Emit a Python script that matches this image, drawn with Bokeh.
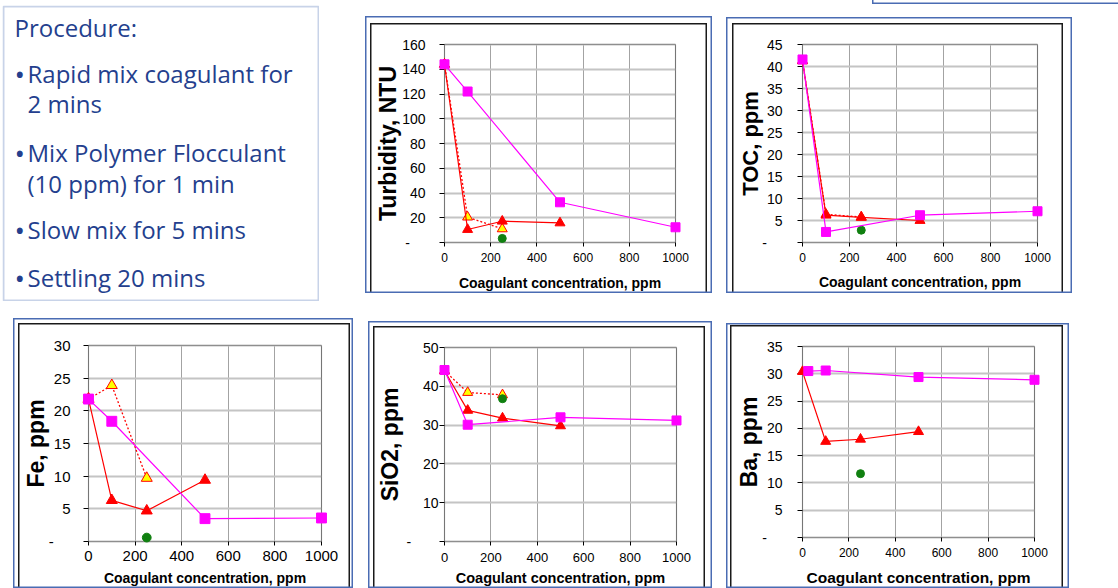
from bokeh.plotting import figure
from bokeh.layouts import row, column
from bokeh.models import Range1d, FixedTicker, BoxAnnotation, Spacer, Grid
from bokeh.core.properties import value
from bokeh.embed import file_html
from bokeh.resources import INLINE

# ---------------- data ----------------
conc_ticks = [0, 200, 400, 600, 800, 1000]

turb_sq_x = [0, 100, 500, 1000]
turb_sq_y = [144, 122, 32.5, 12.3]
turb_tri_x = [0, 100, 250, 500]
turb_tri_y = [144, 10.5, 17.2, 15.8]
turb_open_x = [0, 100, 250]
turb_open_y = [144, 20.5, 11.0]
turb_dot_x = [250]
turb_dot_y = [3.3]
turb_yticks = [0, 20, 40, 60, 80, 100, 120, 140, 160]

toc_sq_x = [0, 100, 500, 1000]
toc_sq_y = [41.6, 2.4, 6.2, 7.1]
toc_tri_x = [0, 100, 250, 500]
toc_tri_y = [41.3, 6.2, 5.7, 5.0]
toc_open_x = [0, 100, 250]
toc_open_y = [41.3, 6.4, 5.8]
toc_dot_x = [250]
toc_dot_y = [2.8]
toc_yticks = [0, 5, 10, 15, 20, 25, 30, 35, 40, 45]

fe_sq_x = [0, 100, 500, 1000]
fe_sq_y = [21.8, 18.4, 3.5, 3.6]
fe_tri_x = [0, 100, 250, 500]
fe_tri_y = [21.8, 6.3, 4.7, 9.4]
fe_open_x = [0, 100, 250]
fe_open_y = [21.8, 23.9, 9.7]
fe_dot_x = [250]
fe_dot_y = [0.6]
fe_yticks = [0, 5, 10, 15, 20, 25, 30]

si_sq_x = [0, 100, 500, 1000]
si_sq_y = [44.2, 30.1, 32.0, 31.2]
si_tri_x = [0, 100, 250, 500]
si_tri_y = [44.0, 33.8, 31.8, 29.8]
si_open_x = [0, 100, 250]
si_open_y = [44.0, 38.4, 37.8]
si_dot_x = [250]
si_dot_y = [36.8]
si_yticks = [0, 10, 20, 30, 40, 50]

ba_sq_x = [25, 100, 500, 1000]
ba_sq_y = [30.5, 30.6, 29.4, 28.9]
ba_tri_x = [0, 100, 250, 500]
ba_tri_y = [30.4, 17.6, 18.0, 19.4]
ba_open_x = []
ba_open_y = []
ba_dot_x = [250]
ba_dot_y = [11.7]
ba_yticks = [0, 5, 10, 15, 20, 25, 30, 35]

x_title = "Coagulant concentration, ppm"

proc_title = "Procedure:"
proc_lines = ["Rapid mix coagulant for", "2 mins", "Mix Polymer Flocculant",
              "(10 ppm) for 1 min", "Slow mix for 5 mins", "Settling 20 mins"]
proc_bullet = ["\u2022", "", "\u2022", "", "\u2022", "\u2022"]

# ---------------- style ----------------
BLUE = "#4a6cb3"
NAVY = "#243f8e"
MAG = "#ff00ff"
RED = "#ff0000"
YEL = "#ffff00"
GRN = "#108010"
FONT = "Liberation Sans"
PAD = 7


def frame_css(l, t, r):
    k = "#1a1a1a"
    return ", ".join([
        f"inset 0 0 0 1.5px {BLUE}",
        f"inset {l}px 0 0 0 white", f"inset -{r}px 0 0 0 white", f"inset 0 {t}px 0 0 white",
        f"inset {l + 1.5}px 0 0 0 {k}", f"inset -{r + 1.5}px 0 0 0 {k}", f"inset 0 {t + 1.5}px 0 0 {k}",
    ])


def chart(cfg, sx, sy, tx, ty, ox, oy, dx, dy, yticks, ytitle):
    W, H = cfg["W"], cfg["H"]
    fl, ft, fr, fb = cfg["frame"]
    xmax, ymax = conc_ticks[-1], yticks[-1]
    xpu = (fr - fl) / xmax
    ypu = (fb - ft) / ymax
    p = figure(width=W, height=H,
               x_range=Range1d(-PAD / xpu, xmax + PAD / xpu),
               y_range=Range1d(-PAD / ypu, ymax + PAD / ypu),
               output_backend="svg", toolbar_location=None,
               min_border_left=fl - PAD, min_border_right=W - fr - PAD,
               min_border_top=ft - PAD, min_border_bottom=H - fb - PAD,
               background_fill_color="white", border_fill_color=None,
               outline_line_color=None)
    p.title = None
    p.styles = {"box-shadow": frame_css(*cfg["inner"])}

    # grids
    p.xgrid.ticker = FixedTicker(ticks=conc_ticks)
    p.ygrid.ticker = FixedTicker(ticks=yticks)
    p.xgrid.grid_line_color = "#a3a3a3"
    p.xgrid.grid_line_width = 1
    p.ygrid.grid_line_color = "#c4c4c4"
    p.ygrid.grid_line_width = 2
    p.xgrid.cross_bounds = (0, ymax)
    p.ygrid.cross_bounds = (0, xmax)
    # outward tick marks
    p.add_layout(Grid(dimension=1, ticker=FixedTicker(ticks=yticks), cross_bounds=(-5 / xpu, 0),
                      grid_line_color="black", grid_line_width=1))
    p.add_layout(Grid(dimension=0, ticker=FixedTicker(ticks=conc_ticks), cross_bounds=(-4 / ypu, 0),
                      grid_line_color="black", grid_line_width=1))

    # plot-area border
    p.add_layout(BoxAnnotation(left=0, right=xmax, bottom=0, top=ymax,
                               fill_color=None, line_color="#111111",
                               line_width=1.2, level="underlay"))

    # axes (labels only; lines and ticks drawn above)
    xa = p.xaxis[0]
    ya = p.yaxis[0]
    xa.ticker = FixedTicker(ticks=conc_ticks)
    ya.ticker = FixedTicker(ticks=yticks)
    ya.major_label_overrides = {0: "-" + "\u00a0" * cfg["dash"]}
    for ax in (xa, ya):
        ax.axis_line_color = None
        ax.major_tick_line_color = None
        ax.major_tick_out = 0
        ax.major_tick_in = 0
        ax.minor_tick_line_color = None
        ax.minor_tick_out = 0
        ax.major_label_text_font = FONT
        ax.major_label_text_color = "black"
        ax.axis_label_text_font = FONT
        ax.axis_label_text_font_style = "bold"
        ax.axis_label_text_color = "black"
    ya.major_label_text_font_size = cfg["ytick_fs"]
    xa.major_label_text_font_size = cfg["xtick_fs"]
    ya.major_label_standoff = cfg["ylab_so"]
    xa.major_label_standoff = cfg["xlab_so"]
    ya.axis_label = ytitle
    ya.axis_label_text_font_size = cfg.get("ytitle_fs", "23px")
    ya.axis_label_standoff = cfg["ytitle_so"]
    xa.axis_label = x_title
    xa.axis_label_text_font_size = cfg["xtitle_fs"]
    xa.axis_label_standoff = cfg["xtitle_so"]

    ms = cfg.get("ms", 1.0)
    if ox:
        p.line(ox, oy, line_color=RED, line_width=1.3, line_dash="2 2")
        p.scatter(ox, oy, marker="triangle", size=10 * ms, fill_color=YEL, line_color=RED, line_width=1)
    p.line(tx, ty, line_color=RED, line_width=1.2)
    p.scatter(tx, ty, marker="triangle", size=10 * ms, fill_color=RED, line_color=RED)
    p.scatter(dx, dy, marker="circle", size=8 * ms, fill_color=GRN, line_color=GRN)
    p.line(sx, sy, line_color=MAG, line_width=1.2)
    p.scatter(sx, sy, marker="square", size=9 * ms, fill_color=MAG, line_color=MAG)
    return p


turb_cfg = dict(W=347, H=277, frame=(79, 28, 310, 226), dash=4, ytick_fs="14px", xtick_fs="12px",
                ylab_so=12, ytitle_so=-2, xlab_so=3, xtitle_so=10, xtitle_fs="14px", inner=(5, 7, 5))
toc_cfg = dict(W=346, H=276, frame=(76, 27, 311, 225), dash=4, ytick_fs="14px", xtick_fs="12px",
               ylab_so=13, ytitle_so=-4, ytitle_fs="22px", xlab_so=3, xtitle_so=9, xtitle_fs="14px",
               inner=(6, 6, 9))
fe_cfg = dict(W=340, H=270, frame=(75, 27, 308, 223), dash=4, ytick_fs="15px", xtick_fs="15px",
              ylab_so=11, ytitle_so=-3, xlab_so=2, xtitle_so=6, xtitle_fs="14px", inner=(5, 5, 3), ms=1.1)
si_cfg = dict(W=344, H=267, frame=(76, 26, 308, 220), dash=7, ytick_fs="14px", xtick_fs="13px",
              ylab_so=-1, ytitle_so=1, xlab_so=4, xtitle_so=5, xtitle_fs="14.5px", inner=(5, 5, 7))
ba_cfg = dict(W=343, H=265, frame=(76, 23, 308, 214), dash=4, ytick_fs="14px", xtick_fs="12px",
              ylab_so=13, ytitle_so=-3, xlab_so=3, xtitle_so=9, xtitle_fs="15.5px", inner=(4, 2, 6))

turb = chart(turb_cfg, turb_sq_x, turb_sq_y, turb_tri_x, turb_tri_y, turb_open_x, turb_open_y,
             turb_dot_x, turb_dot_y, turb_yticks, "Turbidity, NTU")
toc = chart(toc_cfg, toc_sq_x, toc_sq_y, toc_tri_x, toc_tri_y, toc_open_x, toc_open_y,
            toc_dot_x, toc_dot_y, toc_yticks, "TOC, ppm")
fe = chart(fe_cfg, fe_sq_x, fe_sq_y, fe_tri_x, fe_tri_y, fe_open_x, fe_open_y,
           fe_dot_x, fe_dot_y, fe_yticks, "Fe, ppm")
si = chart(si_cfg, si_sq_x, si_sq_y, si_tri_x, si_tri_y, si_open_x, si_open_y,
           si_dot_x, si_dot_y, si_yticks, "SiO2, ppm")
ba = chart(ba_cfg, ba_sq_x, ba_sq_y, ba_tri_x, ba_tri_y, ba_open_x, ba_open_y,
           ba_dot_x, ba_dot_y, ba_yticks, "Ba, ppm")


def plain(w, h, border="white"):
    f = figure(width=w, height=h, x_range=Range1d(0, w), y_range=Range1d(h, 0),
               output_backend="svg", toolbar_location=None, min_border=0,
               x_axis_type=None, y_axis_type=None, outline_line_color=None,
               background_fill_color="white", border_fill_color=border)
    f.title = None
    f.xgrid.visible = False
    f.ygrid.visible = False
    return f


# ---------------- procedure box ----------------
PW, PH = 317, 296
proc = plain(PW, PH)
proc.add_layout(BoxAnnotation(left=1, right=PW - 1, top=1, bottom=PH - 1,
                              fill_color=None, line_color=BLUE, line_width=2))
line_x = [25, 25, 25, 25, 25, 25]
line_y = [68, 98, 147, 178, 224, 272]
bullet_x = [12, 12, 12, 12, 12, 12]
pfont = value("Open Sans")
proc.text(x=[12], y=[22], text=[proc_title], text_font=pfont, text_font_size="24px",
          text_color=NAVY, text_baseline="alphabetic")
proc.text(x=line_x, y=line_y, text=proc_lines, text_font=pfont, text_font_size="24px",
          text_color=NAVY, text_baseline="alphabetic")
proc.text(x=bullet_x, y=line_y, text=proc_bullet, text_font=pfont, text_font_size="28px",
          text_color=NAVY, text_baseline="alphabetic")

# fragment of another slide box at the top right (drawn with CSS, no data)
FW, FH = 246, 4
frag = Spacer(width=FW, height=FH,
              styles={"box-shadow": f"inset 1.5px -1.5px 0 0 {BLUE}"})

toc_col = column(row(Spacer(width=146, height=4), frag), Spacer(width=10, height=13), toc)

top_row = row(Spacer(width=2, height=10), column(Spacer(width=10, height=5), proc),
              Spacer(width=46, height=10), column(Spacer(width=10, height=16), turb),
              Spacer(width=14, height=10), toc_col)
bot_row = row(Spacer(width=13, height=10), column(Spacer(width=10, height=17), fe),
              Spacer(width=15, height=10), column(Spacer(width=10, height=20), si),
              Spacer(width=14, height=10), column(Spacer(width=10, height=22), ba))
page = column(top_row, bot_row)

open("out.html", "w").write(file_html(page, INLINE, title="Coagulation jar tests"))
